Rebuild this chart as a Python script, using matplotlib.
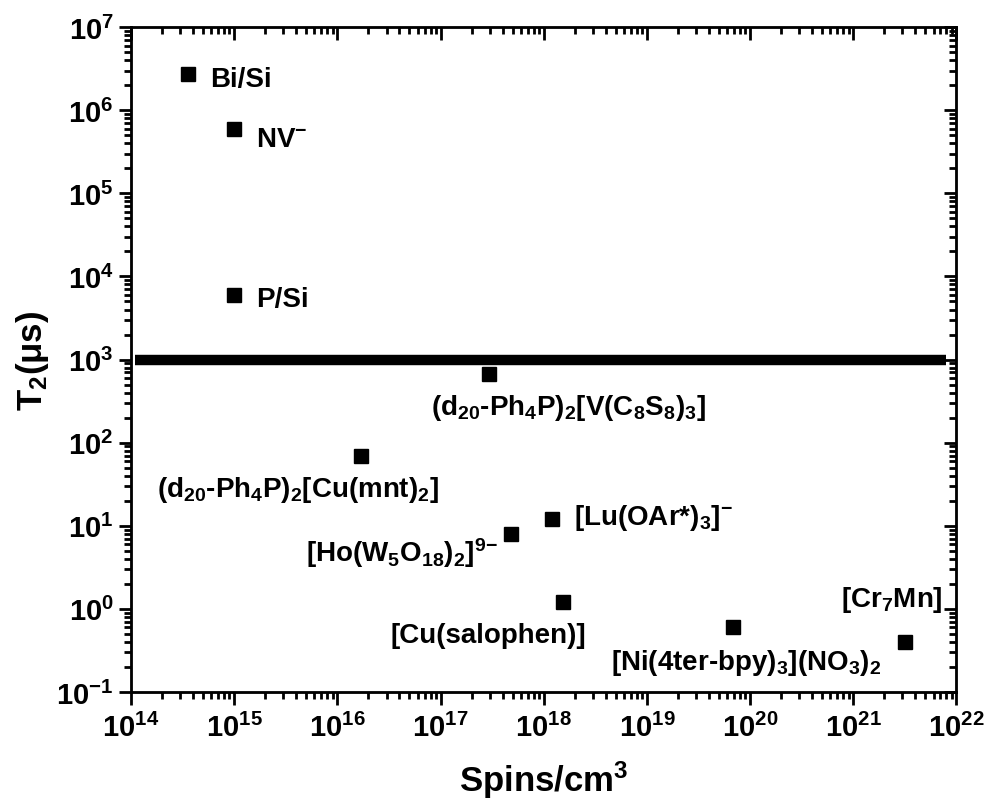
import numpy as np
import matplotlib.pyplot as plt

plt.rcParams['font.family'] = 'Liberation Sans'
plt.rcParams['font.weight'] = 'bold'
plt.rcParams['axes.labelweight'] = 'bold'
plt.rcParams['mathtext.fontset'] = 'custom'
plt.rcParams['mathtext.rm'] = 'Liberation Sans:bold'
plt.rcParams['mathtext.bf'] = 'Liberation Sans:bold'
plt.rcParams['mathtext.it'] = 'Liberation Sans:bold'
plt.rcParams['mathtext.default'] = 'bf'

# spin density (spins/cm^3) and T2 (us) for each system
names = ['Bi/Si', 'NV$^{-}$', 'P/Si',
         '(d$_{20}$-Ph$_4$P)$_2$[V(C$_8$S$_8$)$_3$]',
         '(d$_{20}$-Ph$_4$P)$_2$[Cu(mnt)$_2$]',
         '[Lu(OAr*)$_3$]$^{-}$',
         '[Ho(W$_5$O$_{18}$)$_2$]$^{9{-}}$',
         '[Cu(salophen)]',
         '[Ni(4ter-bpy)$_3$](NO$_3$)$_2$',
         '[Cr$_7$Mn]']
spins = [3.6e14, 1.0e15, 1.0e15, 2.95e17, 1.7e16, 1.2e18, 4.85e17, 1.55e18, 6.8e19, 3.2e21]
t2 = [2.7e6, 6.0e5, 6.0e3, 670, 69, 12, 8, 1.2, 0.6, 0.4]

# label offsets in pixels and alignment
offsets = [(22, -5), (22, -10), (22, -4), (79, -33), (-63, -33),
           (22, 2), (-14, -18), (-75, -33), (13, -35), (37, 43)]
aligns = ['left', 'left', 'left', 'center', 'center',
          'left', 'right', 'center', 'center', 'right']

limit_x = [1.1e14, 8e21]
limit_y = [1e3, 1e3]

fig = plt.figure(figsize=(9.85, 8.03), dpi=100)
ax = fig.add_axes([0.133, 0.137, 0.838, 0.828])

ax.plot(limit_x, limit_y, color='black', lw=7.5, solid_capstyle='butt')
ax.plot(spins, t2, 's', color='black', ms=9.5, ls='none')

for name, x, y, off, ha in zip(names, spins, t2, offsets, aligns):
    ax.annotate(name, (x, y), xytext=off, textcoords='offset pixels',
                ha=ha, va='center', fontsize=20, fontweight='bold')

ax.set_xscale('log')
ax.set_yscale('log')
ax.set_xlim(1e14, 1e22)
ax.set_ylim(1e-1, 1e7)

ax.set_xlabel('Spins/cm$^3$', fontsize=25, labelpad=12)
ax.set_ylabel('T$_2$(\u03bcs)', fontsize=25, labelpad=4)

ax.tick_params(which='both', direction='out', width=2, labelsize=21)
ax.tick_params(which='major', length=9)
ax.tick_params(which='minor', length=5)
ax.tick_params(axis='x', pad=6)
for s in ax.spines.values():
    s.set_linewidth(2)

# mirrored inward ticks on top and right
axt = ax.twiny()
axt.set_xscale('log')
axt.set_xlim(ax.get_xlim())
axt.tick_params(which='both', direction='in', width=2, labeltop=False)
axt.tick_params(which='major', length=9)
axt.tick_params(which='minor', length=5)
axr = ax.twinx()
axr.set_yscale('log')
axr.set_ylim(ax.get_ylim())
axr.tick_params(which='both', direction='in', width=2, labelright=False)
axr.tick_params(which='major', length=9)
axr.tick_params(which='minor', length=5)

fig.savefig('out.png', dpi=100)
